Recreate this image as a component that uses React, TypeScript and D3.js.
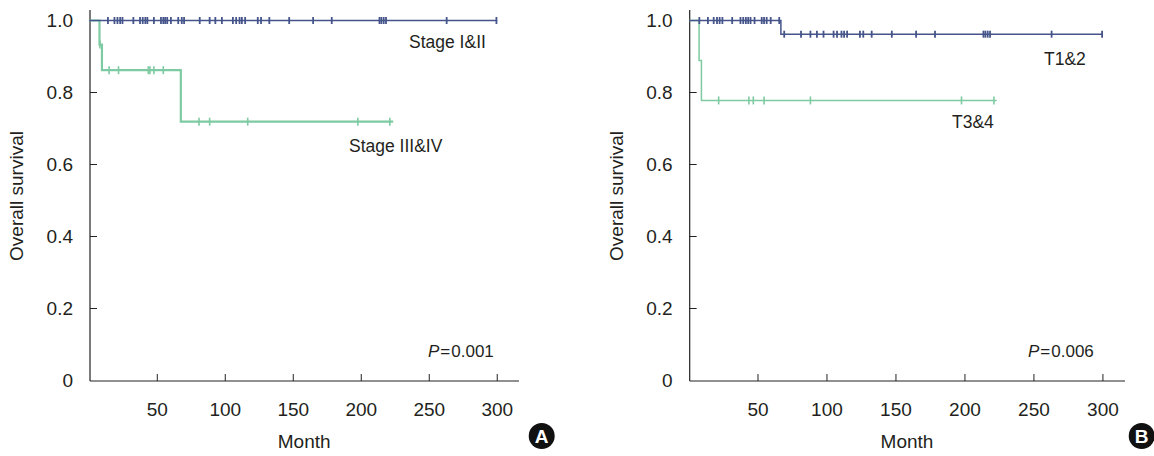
import React from "react";
import * as d3 from "d3";

// ---- Data (months, survival) ----
// Panel A
const aBlueSteps: [number, number][] = [[0, 1.0], [300, 1.0]];
const aBlueCensor: [number, number][] = [
  [13.7, 1], [18.5, 1], [20.7, 1], [22.7, 1], [24.4, 1], [32.4, 1], [37.3, 1], [39.3, 1], [41.2, 1],
  [42.7, 1], [47.5, 1], [52.7, 1], [54.4, 1], [55.8, 1], [57.3, 1], [60, 1], [65.4, 1], [68, 1],
  [69.7, 1], [81.2, 1], [88.5, 1], [92.7, 1], [97.5, 1], [105.6, 1], [108, 1], [110.5, 1],
  [112.2, 1], [114.6, 1], [123.9, 1], [126.3, 1], [132.4, 1], [147, 1], [164.6, 1], [178.3, 1],
  [213.4, 1], [214.8, 1], [216.5, 1], [218.2, 1], [262.8, 1], [299.4, 1],
];
const aGreenSteps: [number, number][] = [[0, 1.0], [7.5, 0.933], [9.3, 0.862], [67.3, 0.719], [223.5, 0.719]];
const aGreenCensor: [number, number][] = [
  [7.8, 0.933], [14.6, 0.862], [21.5, 0.862], [43.4, 0.862], [44.6, 0.862], [47.5, 0.862], [54.4, 0.862],
  [80.7, 0.719], [88.5, 0.719], [116.5, 0.719], [197.5, 0.719], [221, 0.719],
];

// Panel B
const bBlueSteps: [number, number][] = [[0, 1.0], [66.6, 0.962], [300, 0.962]];
const bBlueCensor: [number, number][] = [
  [7.5, 1], [13.7, 1], [17.9, 1], [20.3, 1], [22.2, 1], [24.2, 1], [31.3, 1], [37.3, 1], [39.3, 1],
  [41.2, 1], [42.9, 1], [44.6, 1], [47.5, 1], [52.7, 1], [54.4, 1], [56.3, 1], [59.2, 1], [65.4, 1],
  [69, 0.962], [81.2, 0.962], [88, 0.962], [92.7, 0.962], [97.5, 0.962], [104.8, 0.962], [107.3, 0.962],
  [110.5, 0.962], [112.4, 0.962], [114.6, 0.962], [123.9, 0.962], [126.3, 0.962], [132.4, 0.962],
  [147, 0.962], [164.6, 0.962], [178.3, 0.962], [213.4, 0.962], [214.8, 0.962], [216.5, 0.962],
  [218.2, 0.962], [262.8, 0.962], [299.4, 0.962],
];
const bGreenSteps: [number, number][] = [[0, 1.0], [7.3, 0.889], [9, 0.778], [223, 0.778]];
const bGreenCensor: [number, number][] = [
  [21.5, 0.778], [43.4, 0.778], [46.6, 0.778], [54.4, 0.778], [88, 0.778], [197.5, 0.778], [221, 0.778],
];

const xTicks = [50, 100, 150, 200, 250, 300];
const yTicks = [0, 0.2, 0.4, 0.6, 0.8, 1.0];
const yTickLabels = ["0", "0.2", "0.4", "0.6", "0.8", "1.0"];

const BLUE = "#45548a";
const GREEN = "#7ecaa2";
const FONT = "'Liberation Sans', Arial, sans-serif";
const TXT = "#231f20";

type PanelProps = {
  x0: number;
  x1: number;
  blueSteps: [number, number][];
  blueCensor: [number, number][];
  greenSteps: [number, number][];
  greenCensor: [number, number][];
  greenWidth: number;
  blueLabel: { text: string; x: number; y: number };
  greenLabel: { text: string; x: number; y: number };
  pText: string;
  pX: number;
  letter: string;
  letterX: number;
};

function Panel(p: PanelProps) {
  const x = d3.scaleLinear().domain([0, 316]).range([p.x0, p.x1]);
  const y = d3.scaleLinear().domain([0, 1]).range([380.5, 20.5]);
  const line = d3
    .line<[number, number]>()
    .x((d) => x(d[0]))
    .y((d) => y(d[1]))
    .curve(d3.curveStepAfter);
  const axisX = p.x0 + 0.7;
  return (
    <g>
      {/* axes */}
      <line x1={axisX} x2={axisX} y1={10} y2={381} stroke="#222" strokeWidth={1.2} />
      <line x1={axisX} x2={p.x1} y1={381} y2={381} stroke="#222" strokeWidth={1.2} />
      {yTicks.map((t, i) => (
        <g key={"y" + i}>
          {t > 0 && <line x1={axisX} x2={axisX + 7} y1={y(t)} y2={y(t)} stroke="#222" strokeWidth={1} />}
          <text x={axisX - 17} y={y(t)} dy="0.36em" textAnchor="end" fontFamily={FONT} fontSize={19} fill={TXT}>
            {yTickLabels[i]}
          </text>
        </g>
      ))}
      {xTicks.map((t) => (
        <g key={"x" + t}>
          <line x1={x(t)} x2={x(t)} y1={381} y2={374} stroke="#222" strokeWidth={1} />
          <text x={x(t)} y={416} textAnchor="middle" fontFamily={FONT} fontSize={19} fill={TXT}>
            {t}
          </text>
        </g>
      ))}
      <text
        transform={`translate(${p.x0 - 66},196) rotate(-90)`}
        textAnchor="middle"
        fontFamily={FONT}
        fontSize={19}
        fill={TXT}
      >
        Overall survival
      </text>
      <text x={(p.x0 + p.x1) / 2} y={448} textAnchor="middle" fontFamily={FONT} fontSize={19} fill={TXT}>
        Month
      </text>
      {/* curves */}
      <path d={line(p.greenSteps) || ""} fill="none" stroke={GREEN} strokeWidth={p.greenWidth} />
      {p.greenCensor.map((d, i) => (
        <line key={"gc" + i} x1={x(d[0])} x2={x(d[0])} y1={y(d[1]) - 4} y2={y(d[1]) + 4} stroke={GREEN} strokeWidth={1.6} />
      ))}
      <path d={line(p.blueSteps) || ""} fill="none" stroke={BLUE} strokeWidth={1.5} />
      {p.blueCensor.map((d, i) => (
        <line key={"bc" + i} x1={x(d[0])} x2={x(d[0])} y1={y(d[1]) - 3.5} y2={y(d[1]) + 3.5} stroke={BLUE} strokeWidth={1.8} />
      ))}
      <text x={p.blueLabel.x} y={p.blueLabel.y} fontFamily={FONT} fontSize={17.5} fill={TXT}>
        {p.blueLabel.text}
      </text>
      <text x={p.greenLabel.x} y={p.greenLabel.y} fontFamily={FONT} fontSize={17.5} fill={TXT}>
        {p.greenLabel.text}
      </text>
      <text x={p.pX} y={357} fontFamily={FONT} fontSize={17} fill={TXT}>
        <tspan fontStyle="italic">P</tspan>
        <tspan dx={1}>=</tspan>
        <tspan dx={1}>{p.pText}</tspan>
      </text>
      <circle cx={p.letterX} cy={436} r={13} fill="#111" />
      <text
        x={p.letterX}
        y={436}
        dy="0.36em"
        textAnchor="middle"
        fontFamily={FONT}
        fontWeight="bold"
        fontSize={19}
        fill="#fff"
      >
        {p.letter}
      </text>
    </g>
  );
}

export default function App() {
  return (
    <div style={{ position: "absolute", left: 0, top: 0 }}>
      <svg width={1154} height={456} style={{ display: "block", background: "#fff" }}>
        <Panel
          x0={89.3}
          x1={519}
          blueSteps={aBlueSteps}
          blueCensor={aBlueCensor}
          greenSteps={aGreenSteps}
          greenCensor={aGreenCensor}
          greenWidth={2.2}
          blueLabel={{ text: "Stage I&II", x: 409, y: 48 }}
          greenLabel={{ text: "Stage III&IV", x: 349, y: 152 }}
          pText="0.001"
          pX={428}
          letter="A"
          letterX={541.7}
        />
        <Panel
          x0={689}
          x1={1125}
          blueSteps={bBlueSteps}
          blueCensor={bBlueCensor}
          greenSteps={bGreenSteps}
          greenCensor={bGreenCensor}
          greenWidth={1.5}
          blueLabel={{ text: "T1&2", x: 1044, y: 65 }}
          greenLabel={{ text: "T3&4", x: 952, y: 128 }}
          pText="0.006"
          pX={1028}
          letter="B"
          letterX={1141.7}
        />
      </svg>
    </div>
  );
}
